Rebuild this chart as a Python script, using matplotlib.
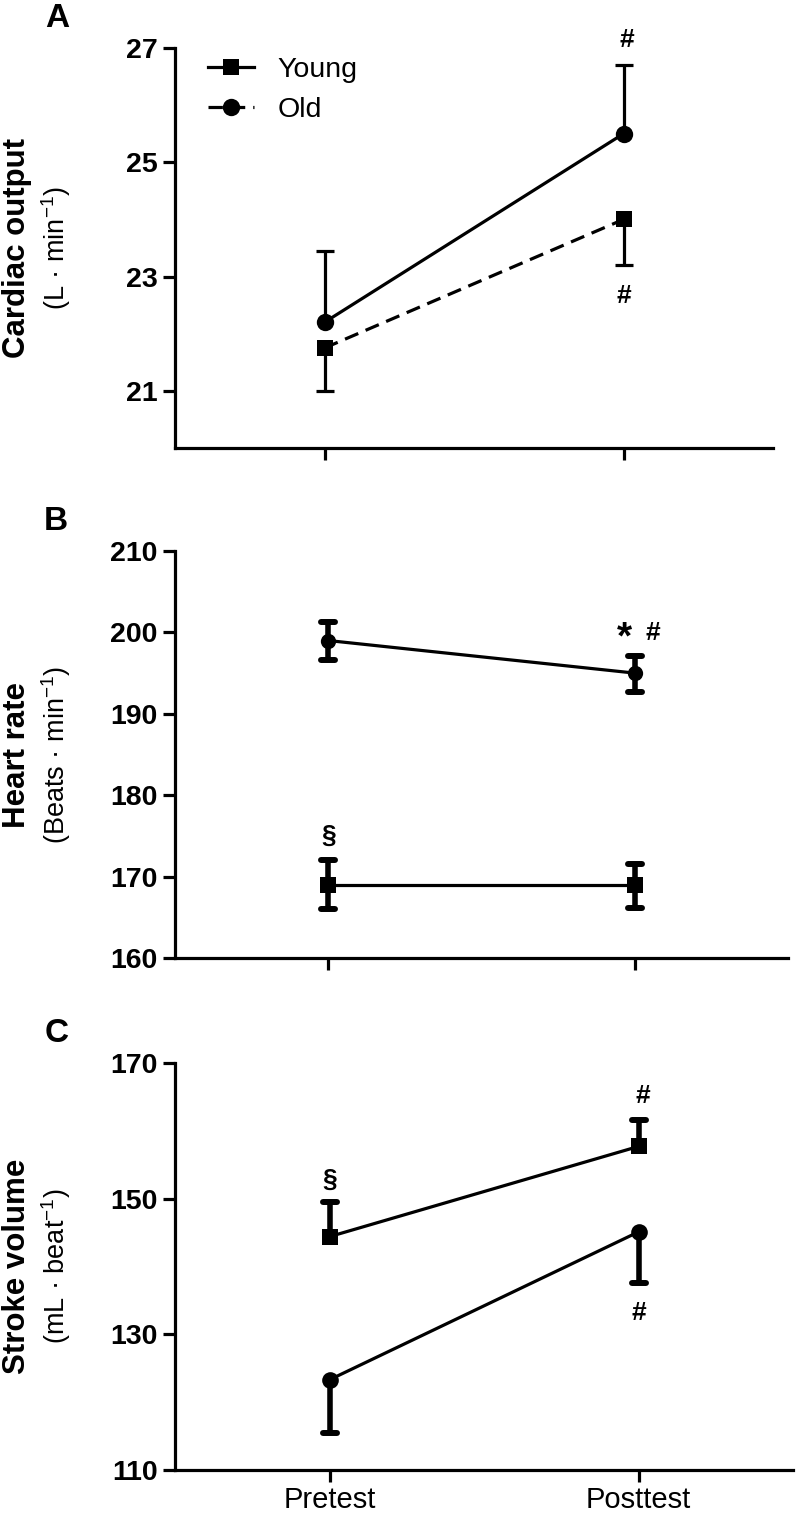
import numpy as np
import matplotlib
matplotlib.use("Agg")
import matplotlib.pyplot as plt
from matplotlib.markers import MarkerStyle
from matplotlib.lines import Line2D

plt.rcParams['font.family'] = ['Liberation Sans', 'DejaVu Sans']

# ---------------- data ----------------
timepoints = ["Pretest", "Posttest"]
groups = ["Young", "Old"]

# Panel A: cardiac output (L/min)
co_young = [21.75, 24.0]
co_young_err_lo = [0.75, 0.8]
co_young_err_hi = [0.0, 0.0]
co_old = [22.2, 25.5]
co_old_err_lo = [0.0, 0.0]
co_old_err_hi = [1.25, 1.2]
co_ticks = [21, 23, 25, 27]

# Panel B: heart rate (beats/min)
hr_young = [169, 169]
hr_young_err_lo = [3.0, 2.8]
hr_young_err_hi = [3.0, 2.6]
hr_old = [199, 195]
hr_old_err_lo = [2.4, 2.3]
hr_old_err_hi = [2.3, 2.1]
hr_ticks = [160, 170, 180, 190, 200, 210]

# Panel C: stroke volume (mL/beat)
sv_young = [144.4, 157.7]
sv_young_err_lo = [0.0, 0.0]
sv_young_err_hi = [5.1, 3.9]
sv_old = [123.3, 145.1]
sv_old_err_lo = [7.9, 7.6]
sv_old_err_hi = [0.0, 0.0]
sv_ticks = [110, 130, 150, 170]

# ---------------- figure ----------------
W, H = 796, 1519
fig = plt.figure(figsize=(W / 100, H / 100), dpi=100)


def px_axes(left, right, top, bottom):
    return fig.add_axes([left / W, 1 - bottom / H, (right - left) / W, (bottom - top) / H])


axA = px_axes(175, 773, 48, 448)
axB = px_axes(175, 788, 551, 958)
axC = px_axes(175, 793, 1063, 1470)

x = np.arange(len(timepoints))


def draw_series(ax, y, lo, hi, marker, ms, ls, lw, elw, capsize, capthick, round_caps):
    y = np.asarray(y, float)
    eb = ax.errorbar(x, y, yerr=[lo, hi], fmt='none', ecolor='k', elinewidth=elw,
                     capsize=capsize, capthick=capthick, zorder=2)
    for cap in eb[1]:
        cy = np.asarray(cap.get_ydata(), float)
        cap.set_ydata(np.where(np.isclose(cy, y), np.nan, cy))
        if round_caps:
            cap.set_marker(MarkerStyle('_', capstyle='round'))
    ax.plot(x, y, color='k', ls=ls, lw=lw, marker=marker, ms=ms,
            markeredgewidth=0, zorder=3)


dash = (0, (4.5, 2.5))

# Panel A
draw_series(axA, co_old, co_old_err_lo, co_old_err_hi, 'o', 12.5, '-', 2.3, 2.3, 6.5, 2.3, False)
draw_series(axA, co_young, co_young_err_lo, co_young_err_hi, 's', 11.5, dash, 2.3, 2.3, 6.5, 2.3, False)

# Panel B
draw_series(axB, hr_old, hr_old_err_lo, hr_old_err_hi, 'o', 11, '-', 2.3, 4.0, 5, 4.3, True)
draw_series(axB, hr_young, hr_young_err_lo, hr_young_err_hi, 's', 11, '-', 2.3, 4.0, 5, 4.3, True)

# Panel C
draw_series(axC, sv_young, sv_young_err_lo, sv_young_err_hi, 's', 12, '-', 2.3, 4.0, 5, 4.3, True)
draw_series(axC, sv_old, sv_old_err_lo, sv_old_err_hi, 'o', 12, '-', 2.3, 4.0, 5, 4.3, True)

for ax, ticks in [(axA, co_ticks), (axB, hr_ticks), (axC, sv_ticks)]:
    ax.spines[['top', 'right']].set_visible(False)
    for s in ['left', 'bottom']:
        ax.spines[s].set_linewidth(2.3)
    ax.tick_params(axis='both', width=2.3, length=8.5, direction='out', colors='k')
    ax.tick_params(axis='y', pad=4)
    ax.set_xlim(-0.5, 1.5)
    ax.set_xticks(x)
    ax.set_yticks(ticks, [str(t) for t in ticks], fontsize=20.5, fontweight='bold')

axA.set_ylim(20, 27)
axB.set_ylim(160, 210)
axC.set_ylim(110, 170)
axA.set_xticklabels([])
axB.set_xticklabels([])
axC.set_xticklabels(timepoints, fontsize=21)
axC.tick_params(axis='x', pad=3)

# legend (panel A)
handles = [
    Line2D([], [], color='k', lw=2.3, ls='-', marker='s', ms=11.5, markeredgewidth=0),
    Line2D([], [], color='k', lw=2.3, ls=dash, marker='o', ms=12.5, markeredgewidth=0),
]
axA.legend(handles, groups, loc='upper left', bbox_to_anchor=(208 / W, 1 - 57 / H),
           bbox_transform=fig.transFigure, frameon=False, fontsize=20.5,
           handlelength=1.6, handletextpad=0.85, labelspacing=0.5, borderpad=0,
           borderaxespad=0)

# y-axis labels


def ylabels(ax_top, ax_bot, main, sub):
    cy = (ax_top + ax_bot) / 2
    fig.text(25 / W, 1 - cy / H, main, rotation=90, rotation_mode='anchor',
             ha='center', va='baseline', fontsize=22.5, fontweight='bold')
    fig.text(65 / W, 1 - cy / H, sub, rotation=90, rotation_mode='anchor',
             ha='center', va='baseline', fontsize=19.5)


ylabels(48, 448, 'Cardiac output', r'(L · min$^{\mathregular{-1}}$)')
ylabels(551, 958, 'Heart rate', r'(Beats · min$^{\mathregular{-1}}$)')
ylabels(1063, 1470, 'Stroke volume', r'(mL · beat$^{\mathregular{-1}}$)')

# panel letters
for lbl, px, py in [('A', 57, 27), ('B', 56, 530), ('C', 57, 1042)]:
    fig.text(px / W, 1 - py / H, lbl, ha='center', va='baseline', fontsize=24, fontweight='bold')

# significance marks
ann = dict(ha='center', va='baseline', fontsize=19, fontweight='bold', clip_on=False)
axA.text(1.01, 27.02, '#', **ann)
axA.text(1.0, 22.54, '#', **ann)
axB.text(0.003, 174.2, '§', **ann)
axB.text(1.059, 199.1, '#', **ann)
axB.text(0.967, 199.2, '*', ha='center', va='center', fontsize=28, fontweight='bold')
axC.text(0.0, 151.7, '§', **ann)
axC.text(1.013, 164.06, '#', **ann)
axC.text(1.0, 132.1, '#', **ann)

fig.savefig('out.png', dpi=100)
